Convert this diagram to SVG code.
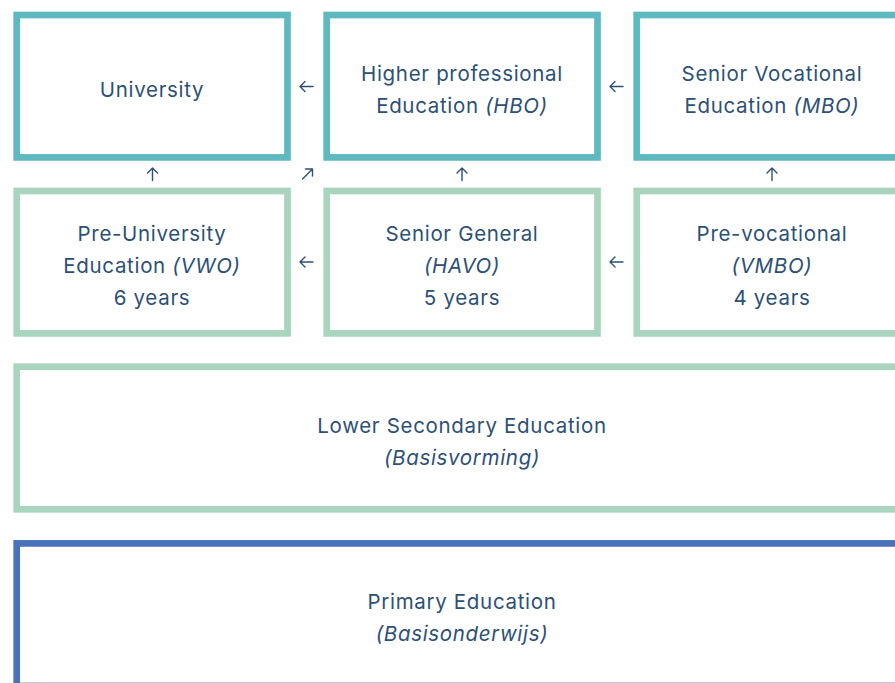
<svg xmlns="http://www.w3.org/2000/svg" width="895" height="683" viewBox="0 0 895 683">
<style>
.box{fill:#ffffff;stroke-width:6.7}
.top{stroke:#5fb9c1}
.mid{stroke:#a9d4bd}
.base{stroke:#4a72b8}
.t{font-family:Inter,"Noto Sans","Liberation Sans",sans-serif;font-size:20.5px;fill:#2d5077;text-anchor:middle;letter-spacing:0.68px}
.i{font-style:italic}
.arr{fill:none;stroke:#2d5077;stroke-width:1.4;stroke-linecap:round;stroke-linejoin:round}
</style>
<rect width="895" height="683" fill="#ffffff"/>
<g id="university">
<rect class="box top" x="16.7" y="15" width="270.8" height="142.4"/>
<text class="t" x="152" y="97">University</text>
</g>
<g id="hbo">
<rect class="box top" x="326.7" y="15" width="270.8" height="142.4"/>
<text class="t" x="462" y="80.5">Higher professional</text>
<text class="t" x="462" y="112.5">Education <tspan class="i">(HBO)</tspan></text>
</g>
<g id="mbo">
<rect class="box top" x="636.7" y="15" width="270.8" height="142.4"/>
<text class="t" x="772" y="80.5">Senior Vocational</text>
<text class="t" x="772" y="112.5">Education <tspan class="i">(MBO)</tspan></text>
</g>
<g id="vwo">
<rect class="box mid" x="16.7" y="191" width="270.8" height="142.4"/>
<text class="t" x="152" y="241">Pre-University</text>
<text class="t" x="152" y="273">Education <tspan class="i">(VWO)</tspan></text>
<text class="t" x="152" y="305">6 years</text>
</g>
<g id="havo">
<rect class="box mid" x="326.7" y="191" width="270.8" height="142.4"/>
<text class="t" x="462" y="241">Senior General</text>
<text class="t i" x="462" y="273">(HAVO)</text>
<text class="t" x="462" y="305">5 years</text>
</g>
<g id="vmbo">
<rect class="box mid" x="636.7" y="191" width="270.8" height="142.4"/>
<text class="t" x="772" y="241">Pre-vocational</text>
<text class="t i" x="772" y="273">(VMBO)</text>
<text class="t" x="772" y="305">4 years</text>
</g>
<g id="lower-secondary">
<rect class="box mid" x="16.7" y="366.7" width="890.8" height="142.6"/>
<text class="t" x="462" y="433">Lower Secondary Education</text>
<text class="t i" x="462" y="465">(Basisvorming)</text>
</g>
<g id="primary">
<rect class="box base" x="16.7" y="543.4" width="890.8" height="142.6"/>
<text class="t" x="462" y="609">Primary Education</text>
<text class="t i" x="462" y="641">(Basisonderwijs)</text>
</g>
<g id="connectors">
<path class="arr" d="M313 86.5H300M305 81.5L300 86.5L305 91.5"/>
<path class="arr" d="M623 86.5H610M615 81.5L610 86.5L615 91.5"/>
<path class="arr" d="M313 262H300M305 257L300 262L305 267"/>
<path class="arr" d="M623 262H610M615 257L610 262L615 267"/>
<path class="arr" d="M152.5 180.5V168M147.5 173L152.5 168L157.5 173"/>
<path class="arr" d="M462 180.5V168M457 173L462 168L467 173"/>
<path class="arr" d="M772 180.5V168M767 173L772 168L777 173"/>
<path class="arr" d="M302.5 179L312.5 169M305.5 169H312.5V176"/>
</g>
</svg>
